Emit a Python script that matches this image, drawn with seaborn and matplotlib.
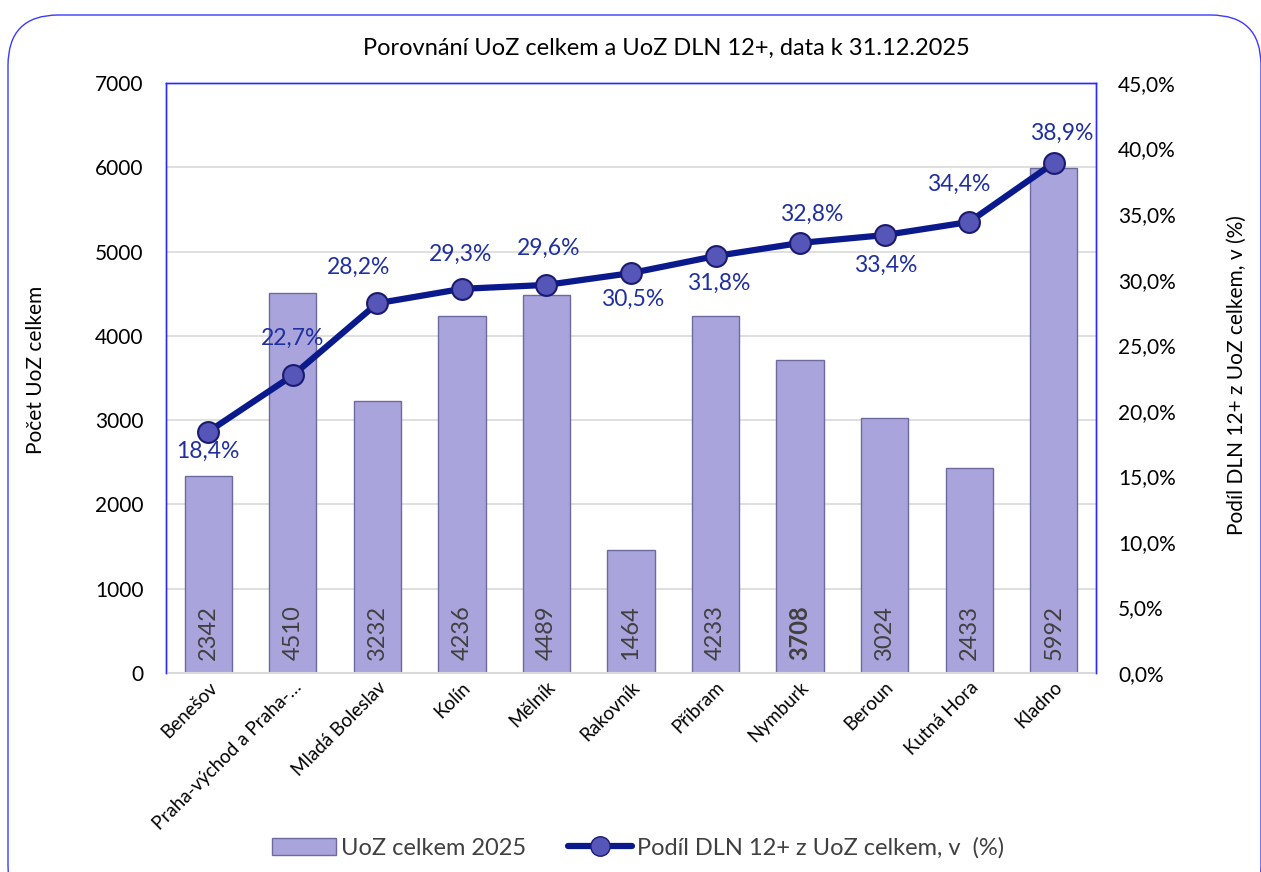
import numpy as np
import pandas as pd
import matplotlib
matplotlib.use("Agg")
import matplotlib.pyplot as plt
from matplotlib.patches import FancyBboxPatch, Rectangle
from matplotlib.lines import Line2D
from matplotlib.ticker import FuncFormatter, MultipleLocator
import seaborn as sns

categories = ["Benešov", "Praha-východ a Praha-…", "Mladá Boleslav", "Kolín", "Mělník",
              "Rakovník", "Příbram", "Nymburk", "Beroun", "Kutná Hora", "Kladno"]
uoz_total = [2342, 4510, 3232, 4236, 4489, 1464, 4233, 3708, 3024, 2433, 5992]
dln_share = [18.4, 22.7, 28.2, 29.3, 29.6, 30.5, 31.8, 32.8, 33.4, 34.4, 38.9]

title = "Porovnání UoZ celkem a UoZ DLN 12+, data k 31.12.2025"
bar_name = "UoZ celkem 2025"
line_name = "Podíl DLN 12+ z UoZ celkem, v  (%)"
left_label = "Počet UoZ celkem"
right_label = "Podíl DLN 12+ z UoZ celkem, v (%)"

sns.set_theme(style="white")
plt.rcParams['font.family'] = ['Lato', 'DejaVu Sans']

W, H = 1261, 872
fig = plt.figure(figsize=(W / 100, H / 100), dpi=100)
# plot area in pixels: x 166..1096, y 83..673
ax = fig.add_axes([166 / W, 1 - 673 / H, (1096 - 166) / W, (673 - 83) / H])

# outer rounded border
fig.patches.append(FancyBboxPatch((8 / W, -0.05), (1261 - 8) / W, 1.05 - 15 / H,
                                  boxstyle="round,pad=0,rounding_size=0.04",
                                  transform=fig.transFigure, fill=False,
                                  edgecolor="#3a3aff", linewidth=1.0, mutation_aspect=W / H))

df = pd.DataFrame({"Okres": categories, "UoZ": uoz_total, "Podil": dln_share})

bar_color = "#a9a5dc"
sns.barplot(data=df, x="Okres", y="UoZ", ax=ax, color=bar_color, saturation=1,
            width=0.56, edgecolor="#6d6a9e", linewidth=1.0, zorder=2)

ax.set_ylim(0, 7000)
ax.set_xlim(-0.5, len(categories) - 0.5)
ax.yaxis.set_major_locator(MultipleLocator(1000))
ax.grid(axis="y", color="#d9d9d9", linewidth=1.2, zorder=0)
ax.set_axisbelow(True)
for s in ["left", "right", "top"]:
    ax.spines[s].set_color("#2a2aff")
    ax.spines[s].set_linewidth(1.0)
ax.spines["bottom"].set_color("#d9d9d9")
ax.spines["bottom"].set_linewidth(1.5)
ax.set_xlabel("")
ax.set_ylabel("")
ax.tick_params(axis="y", labelsize=15, colors="black", pad=16, length=0)
ax.tick_params(axis="x", labelsize=13.5, colors="black", length=0, pad=4)
ax.set_xticks(range(len(categories)))
ax.set_xticklabels(categories, rotation=45, ha="right", rotation_mode="anchor")

# bar value labels
for i, v in enumerate(uoz_total):
    ax.text(i, 150, str(v), rotation=90, ha="center", va="bottom", fontsize=17,
            color="#404040", fontweight="bold" if v == 3708 else "normal", zorder=3)

ax2 = ax.twinx()
sns.lineplot(x=np.arange(len(categories)), y=dln_share, ax=ax2, color="#0a1a8c",
             linewidth=4.5, marker="o", markersize=15, markerfacecolor="#5556b8",
             markeredgecolor="#1a1a70", markeredgewidth=1.5, zorder=5)
ax2.set_ylim(0, 45)
ax2.yaxis.set_major_locator(MultipleLocator(5))
ax2.yaxis.set_major_formatter(FuncFormatter(lambda v, p: f"{v:.1f}%".replace(".", ",")))
ax2.tick_params(axis="y", labelsize=15, colors="black", pad=16, length=0)
ax2.set_ylabel("")
for s in ["left", "right", "top"]:
    ax2.spines[s].set_color("#2a2aff")
    ax2.spines[s].set_linewidth(1.0)
ax2.spines["bottom"].set_visible(False)
ax2.grid(False)

offsets = {0: (0, -20), 1: (0, 37), 2: (-19, 36), 3: (-1, 35), 4: (2, 37), 5: (2, -26),
           6: (3, -27), 7: (12, 29), 8: (1, -30), 9: (-10, 38), 10: (8, 30)}
for i, v in enumerate(dln_share):
    dx, dy = offsets[i]
    ax2.annotate(f"{v:.1f}%".replace(".", ","), (i, v), xytext=(dx, dy),
                 textcoords="offset pixels", ha="center", va="center",
                 fontsize=16.5, color="#1f2fa0", zorder=6)

fig.text(666 / W, 1 - 48 / H, title, ha="center", va="center", fontsize=17, color="black")
fig.text(36 / W, 1 - 370 / H, left_label, rotation=90, ha="center", va="center",
         fontsize=15, color="black")
fig.text(1237 / W, 1 - 375 / H, right_label, rotation=90, ha="center", va="center",
         fontsize=15, color="black")

handles = [Rectangle((0, 0), 1, 1, facecolor=bar_color, edgecolor="#6d6a9e"),
           Line2D([0], [0], color="#0a1a8c", linewidth=4.5, marker="o", markersize=14,
                  markerfacecolor="#5556b8", markeredgecolor="#1a1a70")]
fig.legend(handles, [bar_name, line_name], loc="center", bbox_to_anchor=(638 / W, 1 - 848 / H),
           ncol=2, frameon=False, fontsize=17, handlelength=2.7, columnspacing=1.8,
           handletextpad=0.2, labelcolor="#404040")

fig.savefig("out.png", dpi=100)
